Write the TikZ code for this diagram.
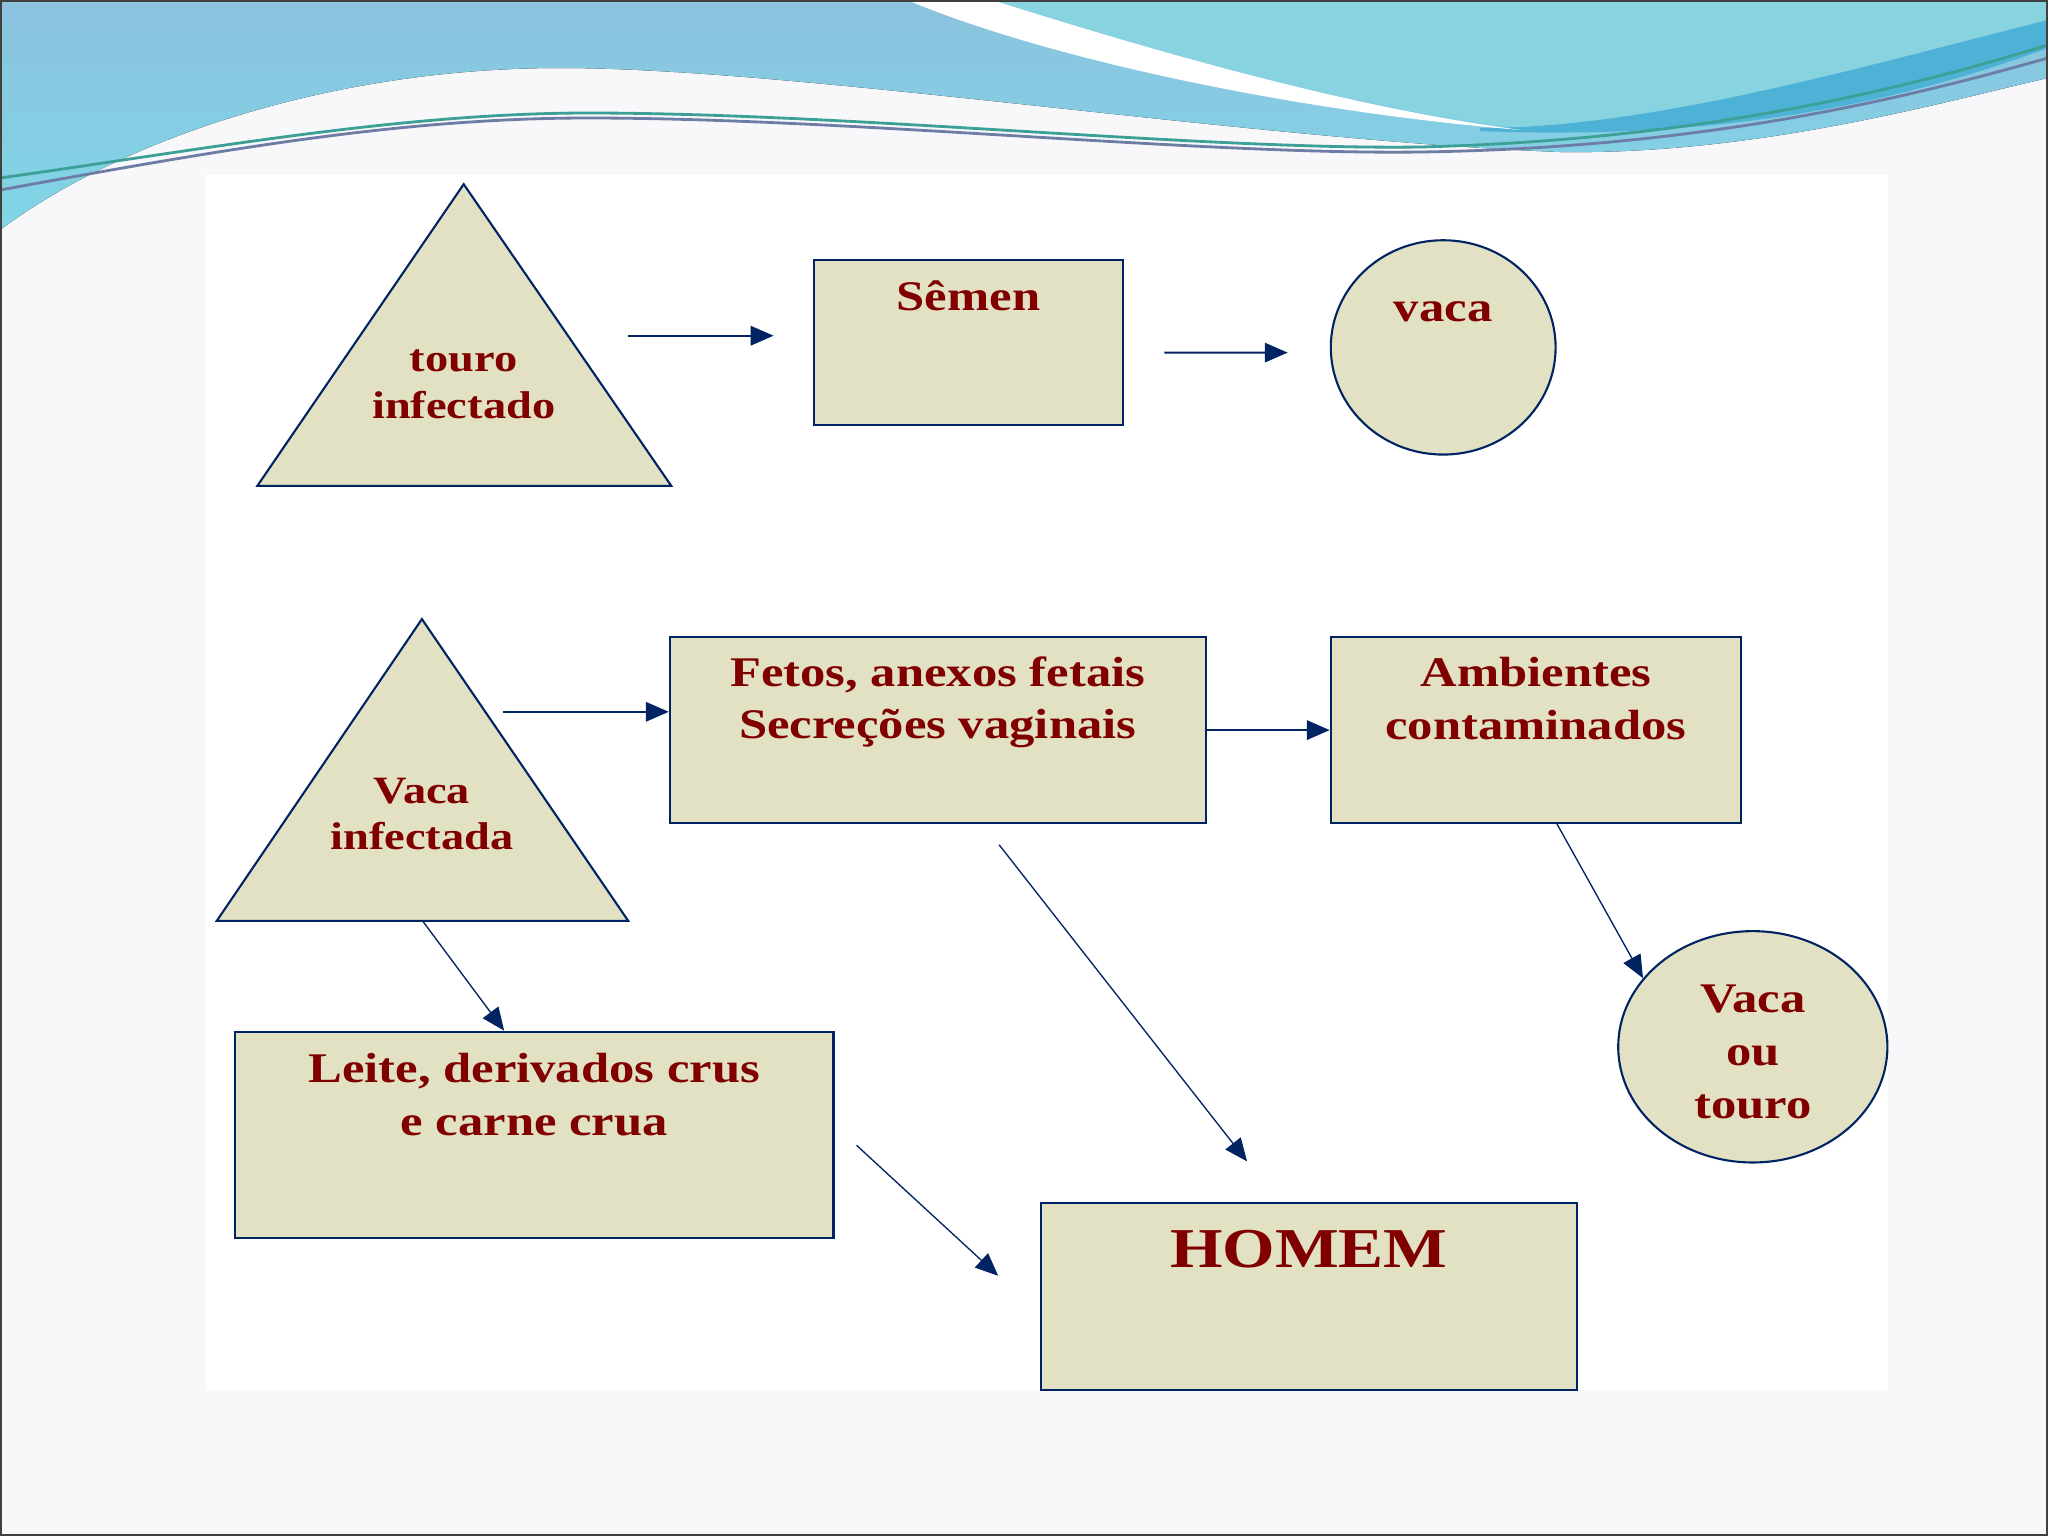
\documentclass[tikz,border=0pt]{standalone}
\usepackage{fontspec}
\setmainfont{Liberation Serif}[FakeStretch=1.2]
\usetikzlibrary{shapes.geometric,arrows.meta,positioning,calc}
\definecolor{Navy}{RGB}{0,36,98}
\definecolor{Wine}{RGB}{128,0,0}
\definecolor{Beige}{RGB}{226,225,196}
\definecolor{SlideBg}{RGB}{248,248,250}
\definecolor{WaveTop}{RGB}{139,194,222}
\definecolor{WaveLow}{RGB}{128,214,230}
\definecolor{WaveCyan}{RGB}{135,212,224}
\definecolor{WaveDeep}{RGB}{78,178,214}
\definecolor{LineTeal}{RGB}{60,160,150}
\definecolor{LineGrey}{RGB}{110,125,165}
\tikzset{
  fbox/.style={rectangle,draw=Navy,fill=Beige,line width=0.6pt,inner sep=0pt},
  fcirc/.style={ellipse,draw=Navy,fill=Beige,line width=0.6pt,inner sep=0pt},
  ftri/.style={draw=Navy,fill=Beige,line width=0.6pt,line join=miter},
  ftxt/.style={text=Wine,font=\fontsize{12}{15}\selectfont\bfseries,
               align=center,inner sep=0pt},
  fsmall/.style={ftxt,font=\fontsize{11}{13.2}\selectfont\bfseries},
  fedge/.style={-{Triangle[length=6.5pt,width=5.5pt]},Navy,line width=0.6pt},
  fthin/.style={fedge,line width=0.38pt},
}

\begin{document}
\begin{tikzpicture}[x=0.01cm,y=-0.01cm]
  \useasboundingbox (0,0) rectangle (2048,1536);
  % slide background
  \fill[SlideBg] (0,0) rectangle (2048,1536);
  \fill[white] (206,175) rectangle (1888,1390);
  \fill[top color=WaveTop,bottom color=WaveLow] (0,0) -- (2048,0) -- (2048,78)
    .. controls (1950,100) and (1760,155) .. (1560,152)
    .. controls (1250,140) and (800,68) .. (560,68)
    .. controls (330,68) and (120,140) .. (0,230) -- cycle;
  \fill[WaveCyan] (992,0) -- (2048,0) -- (2048,20)
    .. controls (1850,70) and (1650,125) .. (1521,128)
    .. controls (1350,108) and (1150,50) .. (992,0) -- cycle;
  \fill[WaveDeep] (1480,128) .. controls (1650,128) and (1850,70) .. (2048,20)
    -- (2048,48) .. controls (1880,110) and (1700,140) .. (1480,131) -- cycle;
  \fill[white] (907,0) .. controls (1050,60) and (1300,112) .. (1521,130)
    .. controls (1350,108) and (1150,50) .. (992,0) -- cycle;
  \draw[LineTeal,line width=0.8pt] (0,178) .. controls (200,150) and (400,113) .. (588,113)
    .. controls (850,113) and (1200,150) .. (1420,147)
    .. controls (1700,140) and (1900,90) .. (2048,45);
  \draw[LineGrey,line width=0.8pt] (0,190) .. controls (220,150) and (400,118) .. (588,118)
    .. controls (850,118) and (1200,155) .. (1420,152)
    .. controls (1700,148) and (1900,100) .. (2048,58);

  % shapes
  \coordinate (t1a) at (463.7,184.2);
  \coordinate (t1l) at (257.3,485.9);
  \coordinate (t1r) at (671.3,485.9);
  \draw[ftri] (t1a) -- (t1l) -- (t1r) -- cycle;
  \coordinate (t2a) at (421.9,619.1);
  \coordinate (t2l) at (216.8,920.8);
  \coordinate (t2r) at (628.2,920.8);
  \coordinate (t2m) at (422.5,920.8);
  \draw[ftri] (t2a) -- (t2l) -- (t2r) -- cycle;

  \node[fbox,minimum width=3.095cm,minimum height=1.646cm] (semen) at (968.5,342.2) {};
  \node[fcirc,minimum width=2.247cm,minimum height=2.142cm] (vaca) at (1443.2,347.4) {};
  \node[fbox,minimum width=5.355cm,minimum height=1.854cm] (fetos) at (937.75,730.1) {};
  \node[fbox,minimum width=4.101cm,minimum height=1.854cm] (amb) at (1535.95,730.1) {};
  \node[fcirc,minimum width=2.69cm,minimum height=2.312cm] (vot) at (1752.8,1046.8) {};
  \node[fbox,minimum width=5.982cm,minimum height=2.064cm] (leite) at (534.2,1135) {};
  \node[fbox,minimum width=5.355cm,minimum height=1.868cm] (homem) at (1308.75,1296.3) {};

  % labels
  \node[fsmall] (touro-t) at ([yshift=-2.0cm]t1a) {touro\\infectado};
  \node[ftxt] (semen-t) at ([yshift=-0.37cm]semen.north) {Sêmen};
  \node[ftxt] (vaca-t) at ([yshift=-0.73cm]vaca.north) {vaca};
  \node[fsmall] (vinf-t) at ([yshift=-1.95cm]t2a) {Vaca\\infectada};
  \node[ftxt] (fetos-t) at ([yshift=-0.66cm]fetos.north) {Fetos, anexos fetais\\Secreções vaginais};
  \node[ftxt] (amb-t) at ([yshift=-0.625cm]amb.north) {Ambientes\\contaminados};
  \node[ftxt] (vot-t) at ([yshift=-0.05cm]vot.center) {Vaca\\ou\\touro};
  \node[ftxt] (leite-t) at ([yshift=-0.64cm]leite.north) {Leite, derivados crus\\e carne crua};
  \node[ftxt,font=\fontsize{16}{19}\selectfont\bfseries] (homem-t) at ([yshift=-0.47cm]homem.north) {HOMEM};

  % arrows
  \coordinate (a1s) at (628.2,335.7);
  \draw[fedge,shorten >=0.39cm] (a1s) -- (a1s -| semen.west);
  \draw[fedge,shorten <=0.4cm,shorten >=0.42cm] ([yshift=-0.104cm]semen.east) -- ([yshift=-0.052cm]vaca.west);
  \coordinate (a3s) at (502.8,711.8);
  \draw[fedge] (a3s) -- (a3s -| fetos.west);
  \draw[fedge] (fetos.east) -- (amb.west);
  \draw[fthin] ([xshift=0.21cm]amb.south) -- (vot.148);
  \draw[fthin] (t2m) -- ([xshift=-0.30cm]leite.north);
  \draw[fthin,shorten <=0.265cm,shorten >=0.513cm] ([xshift=0.45cm]fetos.south) -- ([xshift=-0.30cm]homem.north);
  \draw[fthin,shorten <=0.30cm,shorten >=0.565cm] ([yshift=0.10cm]leite.east) -- ([yshift=-0.178cm]homem.west);

  \draw[black!75,line width=1pt] (0,0) rectangle (2048,1536);
\end{tikzpicture}
\end{document}
